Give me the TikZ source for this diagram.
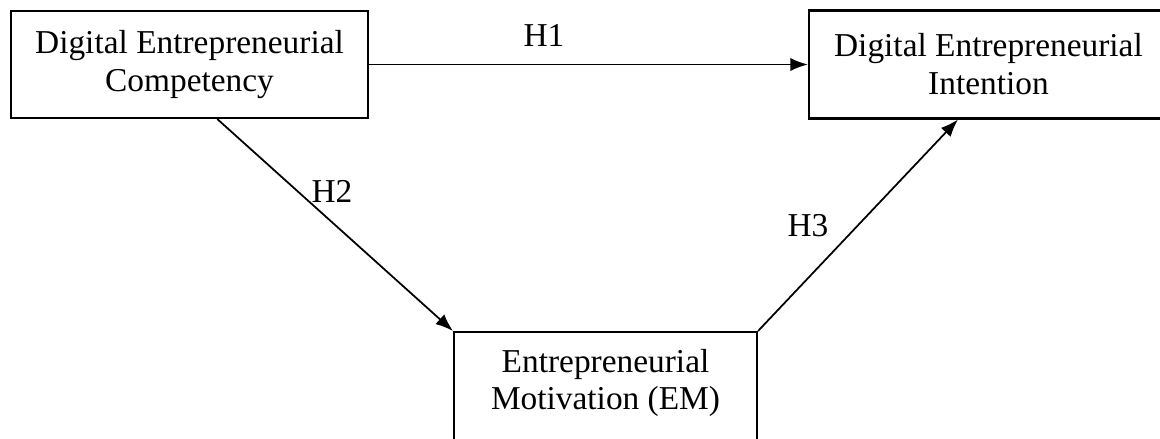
\documentclass[tikz,border=0pt]{standalone}
\usepackage{fontspec}
\setmainfont{Liberation Serif}
\usetikzlibrary{positioning,arrows.meta}

\tikzset{
  box/.style={rectangle, draw=black, line width=1.2pt, align=center, inner sep=0pt,
    font=\fontsize{19}{21.6}\selectfont},
  arr/.style={-{Latex[length=10pt,width=7.5pt]}, line width=1pt},
  hyp/.style={font=\fontsize{19}{21.6}\selectfont, inner sep=0pt}
}

\begin{document}
\begin{tikzpicture}[x=0.02cm, y=-0.02cm]
    \useasboundingbox (0,0) rectangle (1160,439);

    % Competency box at the top left
    \node [box, minimum width=7.14cm, minimum height=2.14cm] (compA) at (189.5,64.5) {
        Digital Entrepreneurial\\
        Competency
    };

    % Intention box at the top right
    \node [box, minimum width=7.18cm, minimum height=2.16cm, right=8.78cm of compA] (intent) {
        Digital Entrepreneurial\\
        Intention
    };

    % Motivation box at the bottom, text at its top
    \node [box, below right=4.24cm and 1.68cm of compA] (motiv) {%
        \parbox[t][3cm][t]{6.06cm}{\centering\rule{0pt}{0.8cm}Entrepreneurial\\
        Motivation (EM)}%
    };

    % Hypothesis paths
    \draw [arr] (compA.east) -- (compA.east -| intent.west);
    \draw [arr] (compA.-63) -- (motiv.north west);
    \draw [arr] (motiv.north east) -- (intent.-119);

    % Path labels
    \node [hyp] (h1) at (544,35.5) {H1};
    \node [hyp] (h2) at (332,191.5) {H2};
    \node [hyp] (h3) at (808,226) {H3};

\end{tikzpicture}
\end{document}
